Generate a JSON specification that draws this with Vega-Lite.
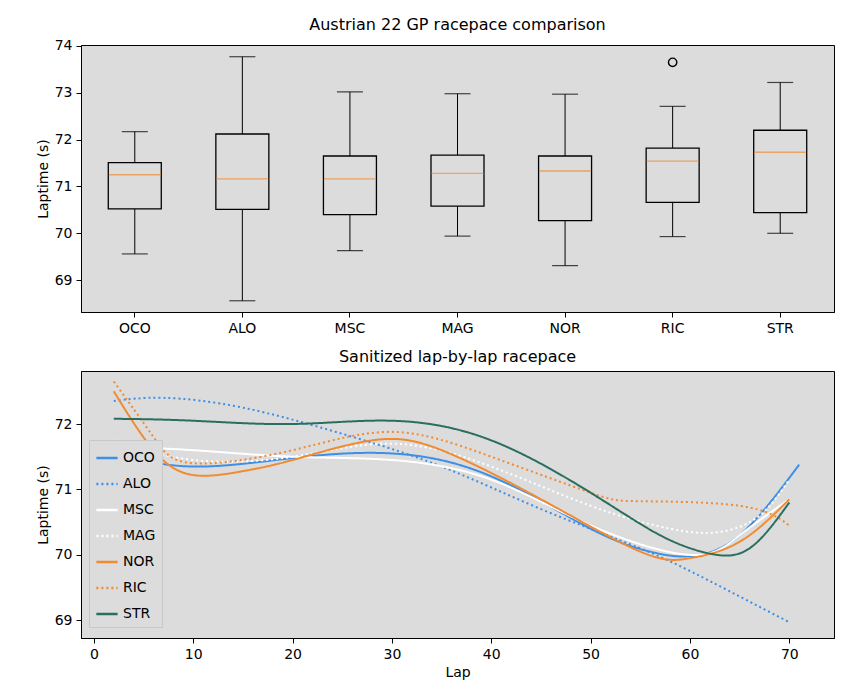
{
  "$schema": "https://vega.github.io/schema/vega-lite/v6.json",
  "padding": {"left": 35, "top": 16, "right": 5, "bottom": 5},
  "datasets": {
    "boxes": [
      {"driver": "OCO", "min": 69.56, "q1": 70.52, "median": 71.25, "q3": 71.51, "max": 72.17},
      {"driver": "ALO", "min": 68.56, "q1": 70.51, "median": 71.16, "q3": 72.12, "max": 73.77},
      {"driver": "MSC", "min": 69.63, "q1": 70.40, "median": 71.16, "q3": 71.65, "max": 73.02},
      {"driver": "MAG", "min": 69.94, "q1": 70.58, "median": 71.28, "q3": 71.67, "max": 72.98},
      {"driver": "NOR", "min": 69.31, "q1": 70.27, "median": 71.33, "q3": 71.65, "max": 72.97},
      {"driver": "RIC", "min": 69.93, "q1": 70.66, "median": 71.54, "q3": 71.82, "max": 72.71},
      {"driver": "STR", "min": 70.00, "q1": 70.44, "median": 71.73, "q3": 72.20, "max": 73.22}
    ],
    "outliers": [{"driver": "RIC", "laptime": 73.65}],
    "pace": [
      {"driver": "OCO", "lap": 2, "t": 71.55}, {"driver": "OCO", "lap": 10, "t": 71.35}, {"driver": "OCO", "lap": 20, "t": 71.48}, {"driver": "OCO", "lap": 30, "t": 71.55}, {"driver": "OCO", "lap": 40, "t": 71.2}, {"driver": "OCO", "lap": 50, "t": 70.4}, {"driver": "OCO", "lap": 56, "t": 70.05}, {"driver": "OCO", "lap": 60, "t": 69.98}, {"driver": "OCO", "lap": 65, "t": 70.3}, {"driver": "OCO", "lap": 71, "t": 71.38},
      {"driver": "ALO", "lap": 2, "t": 72.35}, {"driver": "ALO", "lap": 7, "t": 72.4}, {"driver": "ALO", "lap": 15, "t": 72.25}, {"driver": "ALO", "lap": 25, "t": 71.85}, {"driver": "ALO", "lap": 35, "t": 71.35}, {"driver": "ALO", "lap": 45, "t": 70.7}, {"driver": "ALO", "lap": 55, "t": 70.1}, {"driver": "ALO", "lap": 62, "t": 69.6}, {"driver": "ALO", "lap": 70, "t": 68.97},
      {"driver": "MSC", "lap": 2, "t": 71.65}, {"driver": "MSC", "lap": 10, "t": 71.6}, {"driver": "MSC", "lap": 20, "t": 71.5}, {"driver": "MSC", "lap": 30, "t": 71.45}, {"driver": "MSC", "lap": 40, "t": 71.15}, {"driver": "MSC", "lap": 50, "t": 70.45}, {"driver": "MSC", "lap": 60, "t": 70.0}, {"driver": "MSC", "lap": 65, "t": 70.3}, {"driver": "MSC", "lap": 70, "t": 70.85},
      {"driver": "MAG", "lap": 2, "t": 71.75}, {"driver": "MAG", "lap": 10, "t": 71.45}, {"driver": "MAG", "lap": 20, "t": 71.5}, {"driver": "MAG", "lap": 30, "t": 71.7}, {"driver": "MAG", "lap": 40, "t": 71.35}, {"driver": "MAG", "lap": 50, "t": 70.75}, {"driver": "MAG", "lap": 58, "t": 70.4}, {"driver": "MAG", "lap": 63, "t": 70.35}, {"driver": "MAG", "lap": 67, "t": 70.6}, {"driver": "MAG", "lap": 70, "t": 71.15},
      {"driver": "NOR", "lap": 2, "t": 72.5}, {"driver": "NOR", "lap": 6, "t": 71.6}, {"driver": "NOR", "lap": 10, "t": 71.22}, {"driver": "NOR", "lap": 15, "t": 71.28}, {"driver": "NOR", "lap": 20, "t": 71.45}, {"driver": "NOR", "lap": 28, "t": 71.75}, {"driver": "NOR", "lap": 35, "t": 71.6}, {"driver": "NOR", "lap": 45, "t": 70.85}, {"driver": "NOR", "lap": 55, "t": 70.05}, {"driver": "NOR", "lap": 60, "t": 69.95}, {"driver": "NOR", "lap": 65, "t": 70.2}, {"driver": "NOR", "lap": 70, "t": 70.85},
      {"driver": "RIC", "lap": 2, "t": 72.65}, {"driver": "RIC", "lap": 6, "t": 71.8}, {"driver": "RIC", "lap": 10, "t": 71.4}, {"driver": "RIC", "lap": 20, "t": 71.6}, {"driver": "RIC", "lap": 30, "t": 71.88}, {"driver": "RIC", "lap": 40, "t": 71.5}, {"driver": "RIC", "lap": 50, "t": 70.95}, {"driver": "RIC", "lap": 55, "t": 70.82}, {"driver": "RIC", "lap": 65, "t": 70.75}, {"driver": "RIC", "lap": 70, "t": 70.45},
      {"driver": "STR", "lap": 2, "t": 72.08}, {"driver": "STR", "lap": 10, "t": 72.05}, {"driver": "STR", "lap": 20, "t": 72.0}, {"driver": "STR", "lap": 30, "t": 72.05}, {"driver": "STR", "lap": 40, "t": 71.75}, {"driver": "STR", "lap": 50, "t": 70.95}, {"driver": "STR", "lap": 57, "t": 70.3}, {"driver": "STR", "lap": 62, "t": 70.02}, {"driver": "STR", "lap": 66, "t": 70.1}, {"driver": "STR", "lap": 70, "t": 70.8}
    ]
  },
  "vconcat": [
    {
      "title": "Austrian 22 GP racepace comparison",
      "width": 753,
      "height": 267,
      "data": {"name": "boxes"},
      "encoding": {
        "x": {"field": "driver", "type": "nominal", "sort": null, "title": null,
              "scale": {"paddingInner": 0, "paddingOuter": 0}, "axis": {"labelAngle": 0}}
      },
      "layer": [
        {"mark": {"type": "rule", "color": "black"},
         "encoding": {"y": {"field": "min", "type": "quantitative", "title": "Laptime (s)",
                            "scale": {"domain": [68.32, 74.02], "nice": false, "zero": false}},
                      "y2": {"field": "max"}}},
        {"mark": {"type": "tick", "color": "black", "size": 26, "thickness": 1.2}, "encoding": {"y": {"field": "min", "type": "quantitative"}}},
        {"mark": {"type": "tick", "color": "black", "size": 26, "thickness": 1.2}, "encoding": {"y": {"field": "max", "type": "quantitative"}}},
        {"mark": {"type": "bar", "fill": "#dcdcdc", "stroke": "black", "strokeWidth": 1.3, "width": 53},
         "encoding": {"y": {"field": "q1", "type": "quantitative"}, "y2": {"field": "q3"}}},
        {"mark": {"type": "tick", "color": "#f28a30", "size": 52, "thickness": 1.3}, "encoding": {"y": {"field": "median", "type": "quantitative"}}},
        {"data": {"name": "outliers"},
         "mark": {"type": "point", "shape": "circle", "size": 70, "stroke": "black", "filled": false, "strokeWidth": 1.4, "opacity": 1},
         "encoding": {"y": {"field": "laptime", "type": "quantitative"}}}
      ]
    },
    {
      "title": "Sanitized lap-by-lap racepace",
      "width": 753,
      "height": 267,
      "data": {"name": "pace"},
      "mark": {"type": "line", "interpolate": "natural", "strokeWidth": 2},
      "encoding": {
        "x": {"field": "lap", "type": "quantitative", "title": "Lap",
              "scale": {"domain": [-1.3, 74.5], "nice": false}, "axis": {"values": [0, 10, 20, 30, 40, 50, 60, 70]}},
        "y": {"field": "t", "type": "quantitative", "title": "Laptime (s)",
              "scale": {"domain": [68.73, 72.81], "nice": false, "zero": false}, "axis": {"values": [69, 70, 71, 72]}},
        "color": {"field": "driver", "type": "nominal", "title": null,
                  "scale": {"domain": ["OCO", "ALO", "MSC", "MAG", "NOR", "RIC", "STR"],
                            "range": ["#3d8fe8", "#3d8fe8", "#ffffff", "#ffffff", "#f28a30", "#f28a30", "#2a6e5f"]},
                  "legend": {"orient": "none", "legendX": 8, "legendY": 395, "symbolType": "stroke", "symbolStrokeWidth": 2.5,
                             "symbolSize": 450, "labelFontSize": 14, "rowPadding": 7, "padding": 6,
                             "fillColor": "#dcdcdc", "strokeColor": "#c8c8c8"}},
        "strokeDash": {"field": "driver", "type": "nominal", "title": null,
                       "scale": {"domain": ["OCO", "ALO", "MSC", "MAG", "NOR", "RIC", "STR"],
                                 "range": [[1, 0], [2, 3], [1, 0], [2, 3], [1, 0], [2, 3], [1, 0]]}}
      }
    }
  ],
  "spacing": 12,
  "config": {
    "font": "DejaVu Sans",
    "view": {"fill": "#dcdcdc", "stroke": "black"},
    "title": {"fontSize": 16, "fontWeight": "normal", "offset": 6},
    "axis": {"grid": false, "domainColor": "black", "tickColor": "black", "labelColor": "black",
             "labelFontSize": 14, "titleFontSize": 14, "titleFontWeight": "normal", "labelPadding": 4}
  }
}
